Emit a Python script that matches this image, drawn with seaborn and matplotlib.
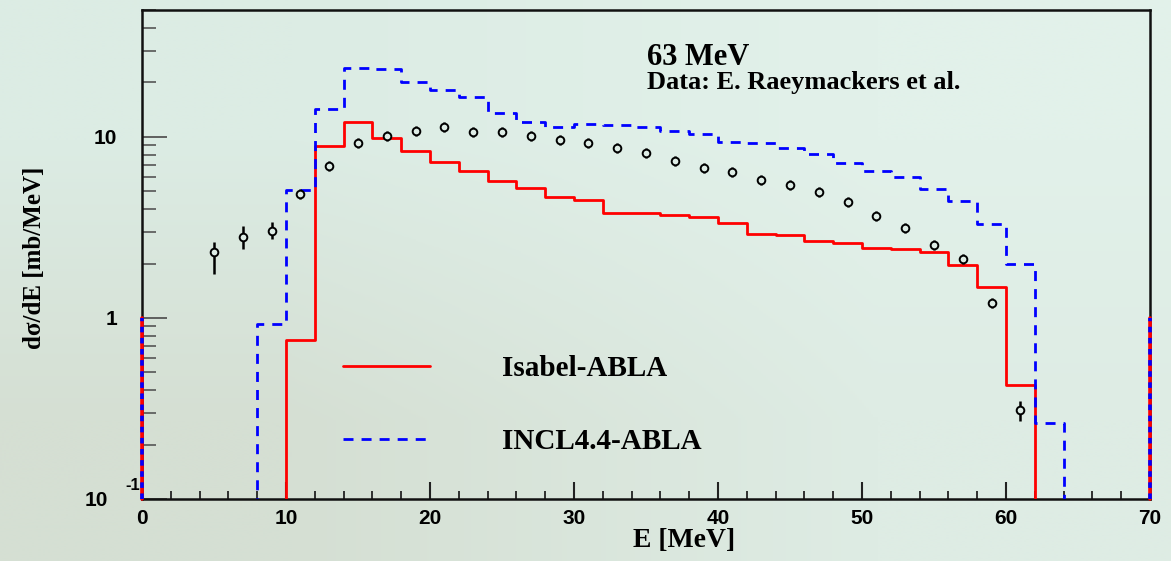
import numpy as np
import matplotlib
matplotlib.use("Agg")
import matplotlib.pyplot as plt
import seaborn as sns
from matplotlib.ticker import FixedLocator, FixedFormatter, LogLocator, MultipleLocator, NullFormatter

# ---------------- data ----------------
bin_edges = list(range(0, 72, 2))  # 2 MeV bins, 0..70 MeV

isabel_abla = [0, 0, 0, 0, 0, 0.756, 8.9, 12.1, 9.9, 8.4, 7.3, 6.5, 5.74, 5.25,
               4.64, 4.49, 3.82, 3.79, 3.71, 3.60, 3.34, 2.92, 2.89, 2.66, 2.61,
               2.44, 2.40, 2.31, 1.96, 1.49, 0.425, 0, 0, 0, 0]

incl_abla = [0, 0, 0, 0, 0.923, 5.1, 14.2, 24.0, 23.6, 20.2, 18.1, 16.6, 13.6, 12.1,
             11.4, 11.8, 11.65, 11.4, 10.75, 10.4, 9.42, 9.22, 8.73, 8.02, 7.14,
             6.5, 5.99, 5.16, 4.45, 3.32, 1.99, 0.264, 0, 0, 0]

data_energy = [5, 7, 9, 11, 13, 15, 17, 19, 21, 23, 25, 27, 29, 31, 33, 35, 37, 39,
               41, 43, 45, 47, 49, 51, 53, 55, 57, 59, 61]
data_xs = [2.31, 2.81, 3.04, 4.82, 6.94, 9.23, 10.09, 10.75, 11.3, 10.65, 10.65, 10.1,
           9.63, 9.26, 8.73, 8.13, 7.40, 6.77, 6.38, 5.76, 5.41, 4.95, 4.36, 3.64,
           3.15, 2.53, 2.13, 1.21, 0.310]
data_err_lo = [0.56, 0.41, 0.31, 0.30, 0.43, 0.57, 0.62, 0.66, 0.70, 0.66, 0.66, 0.62,
               0.59, 0.57, 0.54, 0.50, 0.46, 0.42, 0.39, 0.35, 0.33, 0.30, 0.27, 0.22,
               0.19, 0.16, 0.13, 0.075, 0.040]
data_err_hi = [0.33, 0.41, 0.33, 0.32, 0.46, 0.61, 0.66, 0.71, 0.74, 0.70, 0.70, 0.66,
               0.63, 0.61, 0.57, 0.53, 0.49, 0.44, 0.42, 0.38, 0.36, 0.33, 0.29, 0.24,
               0.21, 0.17, 0.14, 0.080, 0.038]

label_isabel = "Isabel-ABLA"
label_incl = "INCL4.4-ABLA"
title_energy = "63 MeV"
title_data = "Data: E. Raeymackers et al."
x_label = "E [MeV]"
y_label = "dσ/dE [mb/MeV]"
y_ticks = [0.1, 1, 10]
y_ticklabels = ["", "1", "10"]
x_ticks = [0, 10, 20, 30, 40, 50, 60, 70]

# ---------------- style ----------------
sns.set_theme(style="white")
plt.rcParams['font.family'] = ['Liberation Sans', 'DejaVu Sans']
plt.rcParams['lines.scale_dashes'] = False
plt.rcParams['text.color'] = 'black'
plt.rcParams['axes.labelcolor'] = 'black'
plt.rcParams['xtick.color'] = 'black'
plt.rcParams['ytick.color'] = 'black'
serif = ['Liberation Serif', 'DejaVu Serif']

W, H = 1171, 561
fig = plt.figure(figsize=(W / 100, H / 100), dpi=100)

# background gradient
bg = fig.add_axes([0, 0, 1, 1], zorder=-10)
grad = np.array([[[220, 236, 228], [226, 241, 234]],
                 [[213, 223, 211], [222, 236, 228]]]) / 255.0
bg.imshow(grad, extent=[0, 1, 0, 1], interpolation='bilinear', aspect='auto', origin='upper')
bg.set_axis_off()

ax = fig.add_axes([142 / W, 1 - 499 / H, (1150 - 142) / W, (499 - 10) / H])
ax.set_facecolor('none')
ax.set_yscale('log')

edges = np.array(bin_edges, dtype=float)
centers = list((edges[:-1] + edges[1:]) / 2)

sns.histplot(x=centers, weights=isabel_abla, bins=bin_edges, element='step', fill=False,
             color='#ff0000', linewidth=2.0, ax=ax, label=label_isabel, zorder=3)
sns.histplot(x=centers, weights=incl_abla, bins=bin_edges, element='step', fill=False,
             color='#0000ff', linewidth=2.0, linestyle=(0, (7.2, 5.8)), ax=ax,
             label=label_incl, zorder=4)

bg_face = (0.87, 0.93, 0.90)
ax.errorbar(data_energy, data_xs, yerr=[data_err_lo, data_err_hi], fmt='o',
            color='black', ms=5.5, mfc=bg_face, mec='black', mew=1.4,
            elinewidth=1.8, capsize=0, zorder=6)

ymin, ymax = 0.1, 50.3
ax.set_xlim(edges[0], edges[-1])
ax.set_ylim(ymin, ymax)

# ROOT-style edge markers at the histogram range ends
edge_top = 1.0
for xe in (edges[0], edges[-1]):
    ax.plot([xe, xe], [ymin, edge_top], color='#ff0000', lw=2.6, zorder=7, clip_on=False)
    ax.plot([xe, xe], [ymin, edge_top], color='#0000ff', lw=2.6, ls=(0, (4, 4)),
            zorder=8, clip_on=False)

# ticks
ax.xaxis.set_major_locator(FixedLocator(x_ticks))
ax.xaxis.set_minor_locator(MultipleLocator(2))
ax.yaxis.set_major_locator(FixedLocator(y_ticks))
ax.yaxis.set_major_formatter(FixedFormatter(y_ticklabels))
ax.yaxis.set_minor_locator(LogLocator(base=10, subs=np.arange(2, 10)))
ax.yaxis.set_minor_formatter(NullFormatter())
ax.tick_params(axis='x', which='major', direction='in', length=12, width=1.5,
               color='#222222', labelcolor='black', pad=7, labelsize=15, top=False, bottom=True)
ax.tick_params(axis='x', which='minor', direction='in', length=6, width=1.3,
               color='#222222', top=False, bottom=True)
ax.tick_params(axis='y', which='major', direction='in', length=18, width=1.3,
               color='#555555', labelcolor='black', pad=18, labelsize=15, left=True, right=False)
ax.tick_params(axis='y', which='minor', direction='in', length=10, width=1.2,
               color='#555555', left=True, right=False)
for lab in ax.get_xticklabels() + ax.get_yticklabels():
    lab.set_fontweight('bold')
for sp in ax.spines.values():
    sp.set_color('#111111')
    sp.set_linewidth(1.8)
    sp.set_visible(True)

# 10^-1 label in ROOT style
fig.text(96 / W, 1 - 500 / H, "10", fontsize=15, fontweight='bold', ha='center', va='center')
fig.text(133 / W, 1 - 486 / H, "-1", fontsize=12, fontweight='bold', ha='center', va='center')

# axis labels
ax.set_xlabel(x_label, family=serif, fontweight='bold', fontsize=20)
ax.xaxis.set_label_coords((684 - 142) / 1008, (499 - 528) / 489)
ax.set_ylabel(y_label, family=serif, fontweight='bold', fontsize=18)
ax.yaxis.set_label_coords((46 - 142) / 1008, (499 - 258) / 489)

# annotations
fig.text(647 / W, 1 - 65 / H, title_energy, family=serif, fontweight='bold', fontsize=22,
         va='baseline', ha='left')
fig.text(647 / W, 1 - 89 / H, title_data, family=serif, fontweight='bold', fontsize=19,
         va='baseline', ha='left')

leg = ax.legend(loc='upper left', bbox_to_anchor=((343 - 142) / 1008, (499 - 355) / 489),
                frameon=False, borderpad=0, borderaxespad=0,
                prop={'family': serif, 'weight': 'bold', 'size': 21},
                handlelength=2.98, handletextpad=2.47, labelspacing=1.57)

fig.savefig("out.png", dpi=100)
